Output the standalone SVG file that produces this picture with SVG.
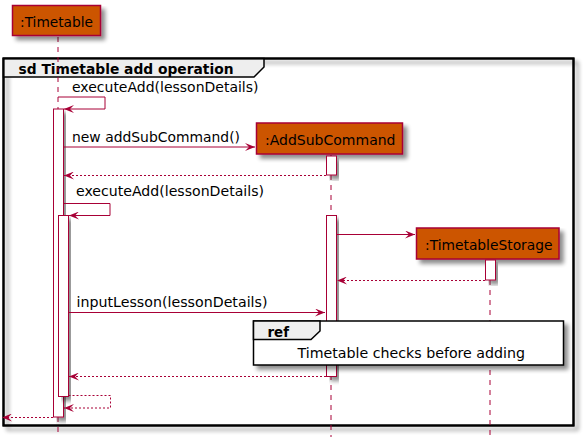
<svg xmlns="http://www.w3.org/2000/svg" width="586" height="448" viewBox="0 0 586 448">
<defs>
<filter id="sh" x="-10%" y="-10%" width="130%" height="140%">
<feGaussianBlur in="SourceAlpha" stdDeviation="2"/>
<feOffset dx="4" dy="4" result="b"/>
<feComponentTransfer><feFuncA type="linear" slope="0.45"/></feComponentTransfer>
<feMerge><feMergeNode/><feMergeNode in="SourceGraphic"/></feMerge>
</filter>
<marker id="ah" viewBox="0 0 10 8" refX="10" refY="4" markerWidth="10" markerHeight="8" markerUnits="userSpaceOnUse" orient="auto">
<path d="M0,0 L10,4 L0,8 L4,4 Z" fill="#A80036"/>
</marker>
</defs>
<style>
text{font-family:"DejaVu Sans","Liberation Sans",sans-serif;font-size:14px;fill:#000}
.b{font-weight:bold}
.part{fill:#CC5500;stroke:#A80036;stroke-width:1.5}
.life{stroke:#A80036;stroke-width:1;stroke-dasharray:5,5;fill:none}
.act{fill:#FFFFFF;stroke:#A80036;stroke-width:1}
.msg{stroke:#A80036;stroke-width:1;fill:none;marker-end:url(#ah)}
.ret{stroke:#A80036;stroke-width:1;fill:none;stroke-dasharray:2,2;marker-end:url(#ah)}
.frame{fill:none;stroke:#000;stroke-width:2}
.tab{fill:#EEEEEE;stroke:#000;stroke-width:1.5}
</style>
<rect width="586" height="448" fill="#FFFFFF"/>

<g id="frame">
<rect x="3.5" y="58.5" width="570" height="367" fill="none" stroke="#000" stroke-width="2" filter="url(#sh)"/>
<polygon class="tab" points="3.5,58.5 264,58.5 264,67 254,77 3.5,77"/>
<rect x="3.5" y="58.5" width="570" height="367" class="frame"/>
<text class="b" x="18.5" y="73.5" textLength="215" lengthAdjust="spacingAndGlyphs">sd Timetable add operation</text>
</g>

<g id="lifelines">
<line class="life" x1="58" y1="37" x2="58" y2="437"/>
<line class="life" x1="331" y1="155" x2="331" y2="437"/>
<line class="life" x1="490" y1="260" x2="490" y2="437"/>
</g>

<g id="Timetable">
<rect class="part" x="12.5" y="5.5" width="88" height="30" filter="url(#sh)"/>
<text x="20" y="27" textLength="73" lengthAdjust="spacingAndGlyphs">:Timetable</text>
</g>
<g id="AddSubCommand">
<rect class="part" x="256.5" y="123" width="146" height="31" filter="url(#sh)"/>
<text x="265" y="145" textLength="130.5" lengthAdjust="spacingAndGlyphs">:AddSubCommand</text>
</g>
<g id="TimetableStorage">
<rect class="part" x="416.5" y="228" width="142.5" height="31" filter="url(#sh)"/>
<text x="425" y="250" textLength="127.5" lengthAdjust="spacingAndGlyphs">:TimetableStorage</text>
</g>

<g id="activations">
<rect class="act" x="53.5" y="109" width="10" height="308" filter="url(#sh)"/>
<rect class="act" x="58.5" y="215.5" width="10" height="181" filter="url(#sh)"/>
<rect class="act" x="326.5" y="156" width="10" height="19" filter="url(#sh)"/>
<rect class="act" x="326.5" y="215.5" width="10" height="161" filter="url(#sh)"/>
<rect class="act" x="485.5" y="260" width="10" height="20" filter="url(#sh)"/>
</g>

<g id="connectors">
<polyline class="msg" points="58,97 105,97 105,109 64,109"/>
<text x="72" y="91.5" textLength="186.5" lengthAdjust="spacingAndGlyphs">executeAdd(lessonDetails)</text>
<line class="msg" x1="63.5" y1="147" x2="255" y2="147"/>
<text x="72" y="142" textLength="168" lengthAdjust="spacingAndGlyphs">new addSubCommand()</text>
<line class="ret" x1="326" y1="175.5" x2="64" y2="175.5"/>
<polyline class="msg" points="63.5,203.5 110,203.5 110,215.5 69,215.5"/>
<text x="76" y="196" textLength="188" lengthAdjust="spacingAndGlyphs">executeAdd(lessonDetails)</text>
<line class="msg" x1="336.5" y1="234.5" x2="415" y2="234.5"/>
<line class="ret" x1="485" y1="280.5" x2="337" y2="280.5"/>
<line class="msg" x1="68.5" y1="312.5" x2="325" y2="312.5"/>
<text x="76.5" y="307" textLength="191" lengthAdjust="spacingAndGlyphs">inputLesson(lessonDetails)</text>
<line class="ret" x1="326" y1="376.5" x2="69" y2="376.5"/>
<polyline class="ret" points="68.5,395.5 110.5,395.5 110.5,408 64,408"/>
<line class="ret" x1="53" y1="417.5" x2="2" y2="417.5"/>
</g>

<g id="ref">
<rect x="253.5" y="321" width="310" height="44" fill="#FFFFFF" stroke="#000" stroke-width="1.5" filter="url(#sh)"/>
<polygon class="tab" points="253.5,321 320,321 320,331 311,339.5 253.5,339.5"/>
<text class="b" x="267.5" y="336.5" textLength="21.5" lengthAdjust="spacingAndGlyphs">ref</text>
<text x="297.5" y="357.5" textLength="227.5" lengthAdjust="spacingAndGlyphs">Timetable checks before adding</text>
</g>
</svg>
